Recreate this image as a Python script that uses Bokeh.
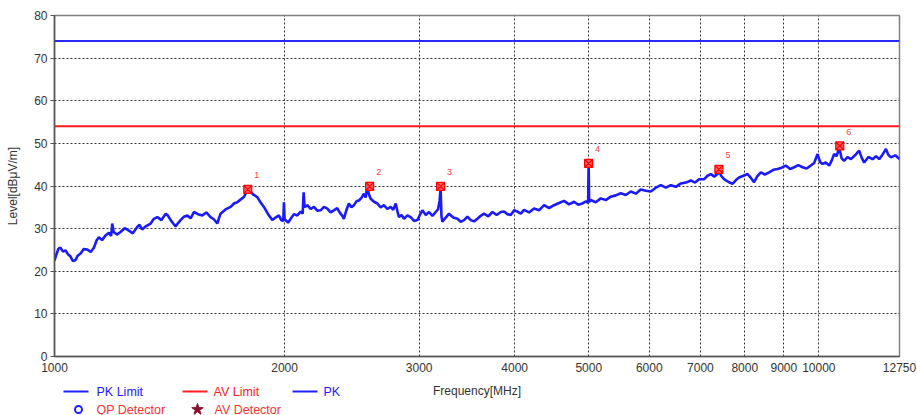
from bokeh.plotting import figure
from bokeh.models import FixedTicker, NumeralTickFormatter, Range1d
from bokeh.layouts import column
from bokeh.core.properties import value
from bokeh.embed import file_html
from bokeh.resources import INLINE

FONT = "Liberation Sans"

# ---------------- data ----------------
x_ticks = [1000, 2000, 3000, 4000, 5000, 6000, 7000, 8000, 9000, 10000, 12750]
y_ticks = [0, 10, 20, 30, 40, 50, 60, 70, 80]

limit_freq = [1000, 12750]
pk_limit = [74, 74]
av_limit = [54, 54]

pk_freq = [
    1000, 1006, 1012, 1018, 1026, 1034, 1041, 1049, 1057, 1065, 1073, 1081, 1092, 1104, 1115, 1126,
    1135, 1143, 1154, 1166, 1178, 1186, 1190, 1195, 1207, 1220, 1235, 1250, 1266, 1283, 1292, 1302,
    1318, 1336, 1349, 1363, 1380, 1398, 1408, 1419, 1430, 1440, 1451, 1462, 1477, 1492, 1507, 1522,
    1541, 1561, 1580, 1600, 1616, 1633, 1641, 1649, 1674, 1700, 1717, 1734, 1751, 1769, 1780, 1790,
    1805, 1823, 1842, 1860, 1879, 1903, 1927, 1946, 1966, 1980, 1992, 1996, 2000,
    2006, 2021, 2037, 2057, 2078, 2099, 2112, 2118, 2124, 2142, 2163, 2185, 2207, 2229, 2252, 2275,
    2297, 2320, 2343, 2367, 2380, 2391, 2408, 2427, 2446, 2465, 2483, 2502, 2521, 2540, 2553, 2566,
    2579, 2592, 2618, 2645, 2671, 2698, 2725, 2753, 2774, 2795, 2810, 2823, 2845, 2866, 2895, 2924,
    2954, 2984, 3006, 3029, 3060, 3090, 3122, 3153, 3175, 3190, 3200, 3208, 3217, 3250, 3282, 3324,
    3366, 3400, 3434, 3469, 3504, 3540, 3575, 3611, 3647, 3694, 3741, 3788, 3836,
    3874, 3913, 3953, 3993, 4033, 4074, 4114, 4177, 4240, 4305, 4370, 4436, 4503, 4572, 4641, 4712,
    4783, 4844, 4905, 4960, 4990, 4998, 5006, 5030, 5107, 5184, 5263, 5342, 5424, 5506, 5590, 5675,
    5761, 5848, 5937, 6027, 6120, 6212, 6307, 6402, 6500, 6598, 6700, 6800, 6886, 6972,
    7079, 7150, 7223, 7296, 7369, 7400, 7450, 7516, 7610, 7709, 7790, 7864, 7965, 8066, 8150, 8228,
    8310, 8396, 8500, 8608, 8720, 8829, 8940, 9053, 9170, 9284, 9400, 9520, 9640, 9761, 9860, 9961,
    10040, 10112, 10210, 10316, 10390, 10471, 10550, 10631, 10710, 10792, 10900, 11013, 11150, 11290, 11380, 11462,
    11610, 11756, 11880, 11995, 12120, 12240, 12330, 12425, 12590, 12750,
]
pk_level = [
    22.5, 24.0, 25.3, 25.5, 24.6, 24.9, 24.0, 23.5, 22.4, 22.6, 23.7, 24.1, 25.2, 25.1, 24.5, 25.5,
    27.2, 28.0, 27.3, 28.4, 29.0, 28.3, 31.2, 29.2, 28.6, 29.2, 30.1, 29.6, 28.9, 30.4, 30.9, 29.8,
    30.6, 31.2, 32.3, 32.7, 32.0, 33.5, 33.0, 32.0, 31.2, 30.5, 31.3, 32.0, 32.8, 33.1, 32.4, 33.9,
    33.4, 33.1, 33.8, 32.7, 32.2, 31.2, 32.4, 33.5, 34.5, 35.1, 35.9, 36.2, 36.8, 37.4, 38.3, 39.0,
    38.6, 37.9, 37.4, 36.2, 35.1, 33.4, 32.0, 32.6, 33.1, 32.0, 31.8, 36.2, 32.2,
    32.0, 31.4, 32.3, 33.4, 33.1, 34.0, 33.5, 38.5, 35.0, 35.5, 34.6, 35.1, 34.2, 34.3, 35.1, 34.7,
    33.8, 34.3, 34.8, 33.5, 33.0, 32.3, 34.2, 35.9, 35.0, 35.5, 36.4, 36.6, 37.2, 38.2, 37.3, 39.8,
    38.0, 37.0, 36.3, 35.9, 35.0, 35.5, 34.6, 35.1, 34.4, 35.9, 34.0, 32.7, 33.2, 32.3, 33.1, 32.7,
    31.8, 32.0, 33.2, 34.3, 33.2, 33.9, 33.0, 33.9, 34.5, 36.5, 39.5, 33.0, 31.6, 32.6, 33.5, 32.6,
    32.3, 31.6, 32.0, 32.8, 32.0, 31.7, 32.3, 33.0, 33.5, 32.9, 33.9, 33.2, 33.9,
    34.0, 33.4, 33.2, 34.3, 34.0, 33.5, 34.4, 33.8, 34.7, 34.3, 35.5, 34.8, 35.5, 36.0, 36.5, 35.7,
    36.3, 35.6, 35.9, 36.4, 36.0, 45.0, 36.3, 36.7, 36.2, 37.1, 36.7, 37.5, 37.8, 38.3, 37.9, 38.7,
    38.2, 39.2, 38.9, 38.7, 39.6, 40.2, 39.6, 40.2, 39.8, 40.6, 40.8, 41.3, 40.8, 41.6,
    41.6, 42.4, 42.8, 42.2, 42.8, 43.5, 42.4, 41.6, 41.0, 40.5, 41.4, 42.0, 42.4, 42.8, 41.9, 40.9,
    42.3, 43.2, 42.7, 43.2, 43.8, 44.0, 44.3, 44.8, 44.0, 44.4, 44.9, 44.4, 44.1, 44.8, 45.4, 47.5,
    45.6, 45.2, 45.5, 44.8, 45.9, 47.5, 47.0, 49.0, 46.5, 45.9, 46.8, 46.3, 47.2, 48.3, 46.6, 45.5,
    46.8, 46.3, 47.0, 46.3, 47.4, 48.7, 47.3, 46.7, 47.2, 46.3,
]

marker_freq = [1790, 2584, 3200, 4998, 7400, 10650]
marker_level = [39.2, 39.9, 39.9, 45.3, 43.9, 49.4]
marker_label = ["1", "2", "3", "4", "5", "6"]

legend_labels = ["PK Limit", "AV Limit", "PK", "QP Detector", "AV Detector"]
legend_colors = ["#2020ff", "#ff2020", "#2020ff", "#ff3030", "#ff3030"]

BLUE = "#1a1aff"
RED = "#ff1a1a"

W = 917
BL, BR = 54, 18   # borders left/right shared by both figures

# ---------------- main chart ----------------
p = figure(width=W, height=380, x_axis_type="log",
           x_range=Range1d(1000, 12750), y_range=Range1d(0, 80),
           output_backend="svg", toolbar_location=None, title=None,
           min_border_left=BL, min_border_right=BR, min_border_top=15, min_border_bottom=24)
p.background_fill_color = "white"
p.border_fill_color = "white"
p.outline_line_color = "#808080"
p.outline_line_width = 1.5

xt = FixedTicker(ticks=x_ticks)
yt = FixedTicker(ticks=y_ticks)
p.xaxis.ticker = xt
p.yaxis.ticker = yt
p.xgrid.ticker = xt
p.ygrid.ticker = yt
p.xaxis.formatter = NumeralTickFormatter(format="0")

for g in (p.xgrid, p.ygrid):
    g.grid_line_color = "#333333"
    g.grid_line_dash = "2 2"
    g.grid_line_width = 1

for ax in (p.xaxis, p.yaxis):
    ax.axis_line_color = "#555555"
    ax.axis_line_width = 1.5
    ax.major_label_text_font = FONT
    ax.major_label_text_font_size = "12px"
    ax.major_label_text_color = "#333333"
    ax.minor_tick_line_color = None
    ax.axis_label_text_font = FONT
    ax.axis_label_text_font_style = "normal"
    ax.axis_label_text_color = "#333333"
    ax.axis_label_text_font_size = "12px"

p.xaxis.major_tick_out = 0
p.xaxis.major_tick_in = 0
p.xaxis.major_label_standoff = 6
p.yaxis.major_tick_out = 4
p.yaxis.major_tick_in = 0
p.yaxis.major_tick_line_color = "#555555"
p.yaxis.major_label_standoff = 3
p.yaxis.axis_label = "Level[dBμV/m]"
p.yaxis.axis_label_standoff = 11

p.line(limit_freq, pk_limit, line_color="#2a2aff", line_width=2)
p.line(limit_freq, av_limit, line_color=RED, line_width=2)
p.line(pk_freq, pk_level, line_color=BLUE, line_width=2.6)

p.scatter(marker_freq, marker_level, marker="square_x", size=8,
          fill_color="#ff6060", line_color="#ff0000", line_width=1.2)
p.text(marker_freq, marker_level, text=marker_label, x_offset=9, y_offset=-14,
       text_align="center", text_baseline="middle", text_font_size="9px",
       text_color="#ff4040", text_font=value(FONT))

# ---------------- legend strip (x in page pixels, frame aligned with main) ----------------
lg = figure(width=W, height=35, x_range=Range1d(BL, W - BR), y_range=Range1d(35, 0),
            output_backend="svg", toolbar_location=None, title=None,
            min_border_left=BL, min_border_right=BR, min_border_top=0, min_border_bottom=0,
            x_axis_location=None, y_axis_location=None)
lg.outline_line_color = None
lg.grid.visible = False
lg.background_fill_color = "white"
lg.border_fill_color = "white"

lg.segment(x0=[63, 182, 292], y0=[11, 11, 11], x1=[88, 207, 317], y1=[11, 11, 11],
           line_color=["#2020ff", "#ff2020", "#2020ff"], line_width=2)
lg.scatter([78], [29], marker="circle", size=7, fill_color=None,
           line_color="#2020ff", line_width=2)
lg.scatter([197], [29], marker="star", size=12, fill_color="#8b1030",
           line_color="#8b1030")
lg.text(x=[96, 213, 323, 96, 214], y=[11, 11, 11, 29, 29], text=legend_labels,
        text_color=legend_colors, text_baseline="middle", text_align="left",
        text_font_size="12.5px", text_font=value(FONT))
lg.text(x=[476.5], y=[10], text=["Frequency[MHz]"], text_color="#333333",
        text_baseline="middle", text_align="center",
        text_font_size="12px", text_font=value(FONT))

layout = column(p, lg, spacing=0)
open("out.html", "w").write(file_html(layout, INLINE))
